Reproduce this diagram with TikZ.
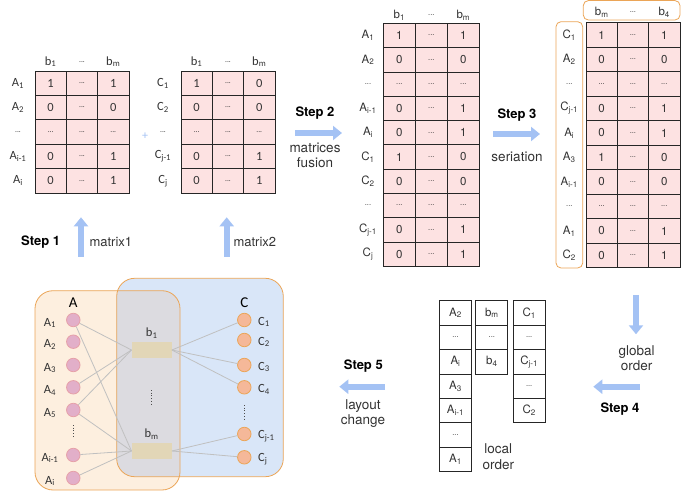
\documentclass[tikz,border=0pt]{standalone}
\usepackage{fontspec}
\setmainfont{TeX Gyre Heros}
\newfontfamily\calfont{Carlito}
\usetikzlibrary{arrows.meta}
\definecolor{cellpink}{HTML}{FDE2E2}
\definecolor{arrowblue}{HTML}{A4C2F4}
\definecolor{txtgray}{HTML}{333333}
\definecolor{orfill}{HTML}{FDEFDF}
\definecolor{blfill}{HTML}{D9E6F8}
\definecolor{ovfill}{HTML}{DCDBE0}
\definecolor{orline}{HTML}{EBA557}
\definecolor{apink}{HTML}{E2AFC9}
\definecolor{apinkline}{HTML}{E6A0A8}
\definecolor{corange}{HTML}{F5B899}
\definecolor{tan}{HTML}{E2D6B7}
\definecolor{edgegray}{HTML}{C0C0C0}
\newcommand\sbs[1]{\textsubscript{#1}}
\newcommand\dd{{\fontsize{7.5}{8}\selectfont ...}}
\begin{document}
\begin{tikzpicture}[x=1pt,y=-1pt,
  cellA/.style={draw=black!85, fill=cellpink, line width=0.7pt, minimum width=31.3pt, minimum height=24.4pt, inner sep=0pt, font=\calfont\fontsize{12.5}{13}\selectfont, text=txtgray},
  cellB/.style={draw=black!85, fill=cellpink, line width=0.7pt, minimum width=32pt, minimum height=24.3pt, inner sep=0pt, font=\fontsize{11.5}{13}\selectfont, text=txtgray},
  cellC/.style={draw=black!85, fill=cellpink, line width=0.7pt, minimum width=31.3pt, minimum height=24.5pt, inner sep=0pt, font=\fontsize{11.5}{13}\selectfont, text=txtgray},
  listcell/.style={draw=black!85, fill=white, line width=0.7pt, minimum width=32pt, minimum height=24.4pt, inner sep=0pt, font=\fontsize{11.5}{13}\selectfont, text=txtgray},
  labA/.style={inner sep=0pt, font=\calfont\fontsize{12.5}{13}\selectfont, text=txtgray},
  labB/.style={inner sep=0pt, font=\fontsize{11.5}{13}\selectfont, text=txtgray},
  stepl/.style={inner sep=0pt, font=\bfseries\fontsize{13}{15}\selectfont, text=black},
  note/.style={inner sep=0pt, align=center, font=\fontsize{13.5}{15.5}\selectfont, text=txtgray},
  fat/.style={draw=arrowblue, line width=6pt, -{Triangle[width=14pt,length=9pt]}},
  acirc/.style={circle, draw=apinkline, fill=apink, minimum size=13.5pt, inner sep=0pt, line width=0.8pt},
  ccirc/.style={circle, draw=orline, fill=corange, minimum size=13.5pt, inner sep=0pt, line width=0.8pt},
  brect/.style={fill=tan, minimum width=40pt, minimum height=16.7pt, inner sep=0pt},
  edge/.style={draw=edgegray, line width=0.8pt},
  gl/.style={inner sep=0pt, font=\calfont\fontsize{12.5}{13}\selectfont, text=txtgray}
]
\useasboundingbox (0,0) rectangle (699,494);

% ---------- Matrix 1 ----------
\foreach \t [count=\k] in {b\sbs{1},\dd,b\sbs{m}}
  \node[labA] (m1h\k) at ({35+15.65+31.3*(\k-1)},61.7) {\t};
\foreach \lab/\a/\b/\c [count=\r] in {A\sbs{1}/1/\dd/1, A\sbs{2}/0/\dd/0, \dd/\dd/\dd/\dd, A\sbs{i-1}/0/\dd/1, A\sbs{i}/0/\dd/1}{
  \pgfmathsetmacro\yy{71+12.2+24.4*(\r-1)}
  \node[labA] (m1l\r) at (18,\yy) {\lab};
  \node[cellA] (m1a\r) at (50.65,\yy) {\a};
  \node[cellA] (m1b\r) at (81.95,\yy) {\b};
  \node[cellA] (m1c\r) at (113.25,\yy) {\c};
}
\node[inner sep=0pt, text=arrowblue, font=\calfont\fontsize{12}{12}\selectfont] (plus) at (145,136) {+};

% ---------- Matrix 2 ----------
\foreach \t [count=\k] in {b\sbs{1},\dd,b\sbs{m}}
  \node[labA] (m2h\k) at ({181+15.65+31.3*(\k-1)},61.7) {\t};
\foreach \lab/\a/\b/\c [count=\r] in {C\sbs{1}/1/\dd/0, C\sbs{2}/0/\dd/0, \dd/\dd/\dd/\dd, C\sbs{j-1}/0/\dd/1, C\sbs{j}/0/\dd/1}{
  \pgfmathsetmacro\yy{71+12.2+24.4*(\r-1)}
  \node[labA] (m2l\r) at (163,\yy) {\lab};
  \node[cellA] (m2a\r) at (196.65,\yy) {\a};
  \node[cellA] (m2b\r) at (227.95,\yy) {\b};
  \node[cellA] (m2c\r) at (259.25,\yy) {\c};
}

% ---------- Step 1 ----------
\node[stepl] (s1) at (40.7,241.7) {Step 1};
\coordinate (u1a) at (81,256.7); \coordinate (u1b) at (81,217.3);
\draw[fat] (u1a) -- (u1b);
\node[note, anchor=west, font=\fontsize{13}{15}\selectfont] (mx1) at (89.3,241.7) {matrix1};
\coordinate (u2a) at (226.7,256.7); \coordinate (u2b) at (226.7,217.3);
\draw[fat] (u2a) -- (u2b);
\node[note, anchor=west, font=\fontsize{13}{15}\selectfont] (mx2) at (233.3,241.7) {matrix2};

% ---------- Step 2 ----------
\node[stepl] (s2) at (315,113) {Step 2};
\coordinate (a2a) at (295,133); \coordinate (a2b) at (342,133);
\draw[fat] (a2a) -- (a2b);
\node[note] (s2t) at (315,155.5) {matrices\\fusion};

% ---------- Matrix 3 ----------
\foreach \t [count=\k] in {b\sbs{1},\dd,b\sbs{m}}
  \node[labB] (m3h\k) at ({383.3+16+32*(\k-1)},15) {\t};
\foreach \lab/\a/\b/\c [count=\r] in {A\sbs{1}/1/\dd/1, A\sbs{2}/0/\dd/0, \dd/\dd/\dd/\dd, A\sbs{i-1}/0/\dd/1, A\sbs{i}/0/\dd/1, C\sbs{1}/1/\dd/0, C\sbs{2}/0/\dd/0, \dd/\dd/\dd/\dd, C\sbs{j-1}/0/\dd/1, C\sbs{j}/0/\dd/1}{
  \pgfmathsetmacro\yy{23.3+12.15+24.3*(\r-1)}
  \node[labB] (m3l\r) at (368,\yy) {\lab};
  \node[cellB] (m3a\r) at (399.3,\yy) {\a};
  \node[cellB] (m3b\r) at (431.3,\yy) {\b};
  \node[cellB] (m3c\r) at (463.3,\yy) {\c};
}

% ---------- Step 3 ----------
\node[stepl] (s3) at (517,115) {Step 3};
\coordinate (a3a) at (493,134); \coordinate (a3b) at (540,134);
\draw[fat] (a3a) -- (a3b);
\node[note] (s3t) at (517,157) {seriation};

% ---------- Matrix 4 ----------
\draw[orline, line width=0.8pt, rounded corners=5pt] (583.3,0.6) rectangle (680,20);
\draw[orline, line width=0.8pt, rounded corners=5pt] (556,21.7) rectangle (582.7,268);
\foreach \t [count=\k] in {b\sbs{m},\dd,b\sbs{4}}
  \node[labB] (m4h\k) at ({586+15.65+31.3*(\k-1)},12.5) {\t};
\foreach \lab/\a/\b/\c [count=\r] in {C\sbs{1}/1/\dd/1, A\sbs{2}/0/\dd/0, \dd/\dd/\dd/\dd, C\sbs{j-1}/0/\dd/1, A\sbs{i}/0/\dd/1, A\sbs{3}/1/\dd/0, A\sbs{i-1}/0/\dd/0, \dd/\dd/\dd/\dd, A\sbs{1}/0/\dd/1, C\sbs{2}/0/\dd/1}{
  \pgfmathsetmacro\yy{22.7+12.25+24.5*(\r-1)}
  \node[labB] (m4l\r) at (569.3,\yy) {\lab};
  \node[cellC] (m4a\r) at (601.65,\yy) {\a};
  \node[cellC] (m4b\r) at (632.95,\yy) {\b};
  \node[cellC] (m4c\r) at (664.25,\yy) {\c};
}

% ---------- Step 4 ----------
\coordinate (d4a) at (636,295); \coordinate (d4b) at (636,334.3);
\draw[fat] (d4a) -- (d4b);
\node[note] (go) at (636.7,358) {global\\order};
\coordinate (a4a) at (640,386.7); \coordinate (a4b) at (593.3,386.7);
\draw[fat] (a4a) -- (a4b);
\node[stepl] (s4) at (620,409.3) {Step 4};

% ---------- Lists ----------
\foreach \t [count=\r] in {A\sbs{2},\dd,A\sbs{i},A\sbs{3},A\sbs{i-1},\dd,A\sbs{1}}
  \node[listcell] (la\r) at (455.5,{300.7+12.2+24.4*(\r-1)}) {\t};
\foreach \t [count=\r] in {b\sbs{m},\dd,b\sbs{4}}
  \node[listcell] (lb\r) at (491.8,{300.7+12.2+24.4*(\r-1)}) {\t};
\foreach \t [count=\r] in {C\sbs{1},\dd,C\sbs{j-1},\dd,C\sbs{2}}
  \node[listcell] (lc\r) at (529.2,{300.7+12.2+24.4*(\r-1)}) {\t};
\node[note] (lo) at (498.3,456.8) {local\\order};

% ---------- Step 5 ----------
\node[stepl] (s5) at (363.3,366) {Step 5};
\coordinate (a5a) at (385,386.7); \coordinate (a5b) at (339.3,386.7);
\draw[fat] (a5a) -- (a5b);
\node[note] (lc) at (363,413.5) {layout\\change};

% ---------- Graph ----------
\fill[orfill, rounded corners=18pt] (35,290.7) rectangle (180,490);
\fill[blfill, rounded corners=18pt] (116.7,278.3) rectangle (283.3,476.7);
\begin{scope}
  \clip[rounded corners=18pt] (35,290.7) rectangle (180,490);
  \fill[ovfill, rounded corners=18pt] (116.7,278.3) rectangle (283.3,476.7);
\end{scope}
\draw[orline, line width=0.8pt, rounded corners=18pt] (35,290.7) rectangle (180,490);
\draw[orline, line width=0.8pt, rounded corners=18pt] (116.7,278.3) rectangle (283.3,476.7);

\node[inner sep=0pt, font=\calfont\fontsize{15}{16}\selectfont] (Ahead) at (73.3,303) {A};
\node[inner sep=0pt, font=\calfont\fontsize{15}{16}\selectfont] (Chead) at (244.3,303) {C};

\foreach \n/\lab/\yy in {1/A\sbs{1}/320, 2/A\sbs{2}/341.7, 3/A\sbs{3}/365, 4/A\sbs{4}/387.3, 5/A\sbs{5}/410, 6/A\sbs{i-1}/455, 7/A\sbs{i}/478}{
  \node[acirc] (A\n) at (73.3,\yy) {};
  \node[gl] (Al\n) at (50,\yy+3) {\lab};
}
\foreach \n/\lab/\yy in {1/C\sbs{1}/320, 2/C\sbs{2}/340, 3/C\sbs{3}/365, 4/C\sbs{4}/387.3, 5/C\sbs{j-1}/434, 6/C\sbs{j}/457.3}{
  \node[ccirc] (C\n) at (244.3,\yy) {};
  \node[gl, anchor=west] (Cl\n) at (258,\yy+2) {\lab};
}
\node[brect] (b1) at (151.7,350) {};
\node[brect] (bm) at (151.7,451) {};
\node[gl] (b1l) at (151.7,333) {b\sbs{1}};
\node[gl] (bml) at (151.7,434) {b\sbs{m}};

\coordinate (dA1) at (73.3,425); \coordinate (dA2) at (73.3,438);
\draw[black!70, dotted, line width=0.7pt] (dA1) -- (dA2);
\coordinate (dB1) at (151.7,390); \coordinate (dB2) at (151.7,405);
\draw[black!70, dotted, line width=0.7pt] (dB1) -- (dB2);
\coordinate (dC1) at (244.3,405); \coordinate (dC2) at (244.3,419);
\draw[black!70, dotted, line width=0.7pt] (dC1) -- (dC2);

\draw[edge] (A1) -- (b1.west);
\draw[edge] (A1) -- (bm.west);
\draw[edge] (A4) -- (b1.west);
\draw[edge] (A5) -- (b1.west);
\draw[edge] (A5) -- (bm.west);
\draw[edge] (A6) -- (bm.west);
\draw[edge] (A7) -- (bm.west);
\draw[edge] (b1.east) -- (C1);
\draw[edge] (b1.east) -- (C3);
\draw[edge] (b1.east) -- (C4);
\draw[edge] (bm.east) -- (C5);
\draw[edge] (bm.east) -- (C6);
\end{tikzpicture}
\end{document}
